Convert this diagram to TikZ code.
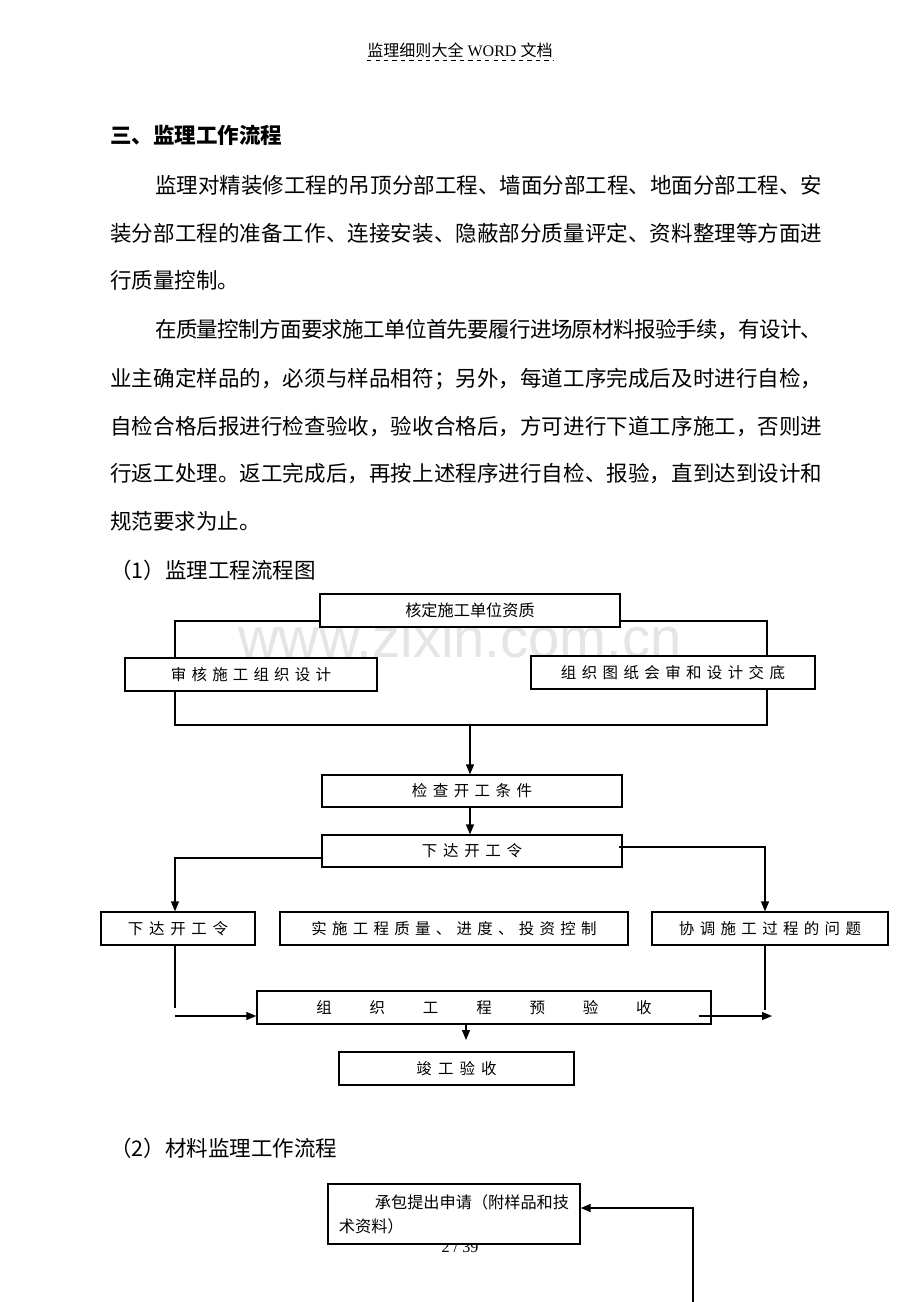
\documentclass[tikz,border=0pt]{standalone}
\usepackage{fontspec}
\setmainfont{Liberation Serif}
\newfontfamily\cjk{Noto Sans CJK SC}
\newfontfamily\wmfont{Liberation Sans}
\usetikzlibrary{arrows.meta}
\newcommand\bodyfont{\cjk\fontsize{15.3pt}{18pt}\selectfont}
\newcommand\boxfont{\cjk\fontsize{11pt}{13pt}\selectfont}
\makeatletter
% spread the characters of #2 evenly over the width #1
\newcommand\spreadto[2]{\makebox[#1][s]{\spread@chars#2\@nil}}
\def\spread@chars#1#2\@nil{#1\ifx\relax#2\relax\else\hskip 0pt plus 1fil minus 1fil\spread@chars#2\@nil\fi}
\makeatother
\tikzset{
  flowbox/.style={draw, fill=white, line width=0.9pt, minimum height=0.825cm, inner sep=0pt, font=\boxfont},
  link/.style={line width=0.9pt},
  arrowlink/.style={link, -{Triangle[length=0.25cm,width=0.2cm]}},
  bodyline/.style={anchor=base west, inner sep=0pt, font=\bodyfont},
}

\begin{document}
\begin{tikzpicture}[x=0.025cm,y=-0.025cm]
\fill[white] (0,0) rectangle (920,1302);
\useasboundingbox (0,0) rectangle (920,1302);
% page head
\node[anchor=base, inner sep=0pt, font=\fontsize{11.4pt}{13pt}\selectfont] (header) at (460,56) {{\cjk 监理细则大全} WORD {\cjk 文档}};
\draw[dashed, line width=0.4pt] ([yshift=-0.1cm]header.base west) -- ([yshift=-0.1cm]header.base east);
\node[bodyline, font=\bodyfont\bfseries] (title) at (110,143) {三、监理工作流程};
\node[bodyline] (l1) at (155,193) {\spreadto{16.675cm}{监理对精装修工程的吊顶分部工程、墙面分部工程、地面分部工程、安}};
\node[bodyline] (l2) at (110,241) {\spreadto{17.8cm}{装分部工程的准备工作、连接安装、隐蔽部分质量评定、资料整理等方面进}};
\node[bodyline] (l3) at (110,288) {行质量控制。};
\node[bodyline] (l4) at (155,337) {\spreadto{16.675cm}{在质量控制方面要求施工单位首先要履行进场原材料报验手续，有设计、}};
\node[bodyline] (l5) at (110,386) {\spreadto{17.8cm}{业主确定样品的，必须与样品相符；另外，每道工序完成后及时进行自检，}};
\node[bodyline] (l6) at (110,434) {\spreadto{17.8cm}{自检合格后报进行检查验收，验收合格后，方可进行下道工序施工，否则进}};
\node[bodyline] (l7) at (110,481) {\spreadto{17.8cm}{行返工处理。返工完成后，再按上述程序进行自检、报验，直到达到设计和}};
\node[bodyline] (l8) at (110,529) {规范要求为止。};
\node[bodyline] (cap1) at (110,578) {（1）监理工程流程图};
\node[bodyline] (cap2) at (110,1156) {（2）材料监理工作流程};
% watermark
\node[anchor=base, inner sep=0pt, text=black!10, font=\wmfont\fontsize{40pt}{40pt}\selectfont] (mark) at (460,657) {www.zixin.com.cn};
% flow chart (1)
\node[flowbox, minimum width=7.5cm, font=\cjk\fontsize{11.5pt}{13pt}\selectfont] (hezhi) at (470,610.5) {核定施工单位资质};
\node[flowbox, minimum width=6.3cm] (shenhe) at (251,674.5) {\spreadto{4cm}{审核施工组织设计}};
\node[flowbox, minimum width=7.1cm] (tuzhi) at (673,672.5) {\spreadto{5.6cm}{组织图纸会审和设计交底}};
\node[flowbox, minimum width=7.5cm, minimum height=0.8cm] (jiancha) at (472,791) {\spreadto{3cm}{检查开工条件}};
\node[flowbox, minimum width=7.5cm, minimum height=0.8cm] (kaigong) at (472,851) {\spreadto{2.5cm}{下达开工令}};
\node[flowbox, minimum width=3.85cm] (xiada) at (178,928.5) {\spreadto{2.5cm}{下达开工令}};
\node[flowbox, minimum width=8.7cm] (shishi) at (454,928.5) {\spreadto{7.125cm}{实施工程质量、进度、投资控制}};
\node[flowbox, minimum width=5.9cm] (xietiao) at (770,928.5) {\spreadto{4.55cm}{协调施工过程的问题}};
\node[flowbox, minimum width=11.35cm] (yanshou) at (484,1007.5) {\spreadto{8.375cm}{组织工程预验收}};
\node[flowbox, minimum width=5.875cm] (jungong) at (456.5,1068.5) {\spreadto{2cm}{竣工验收}};
\coordinate (merge) at (470,725);
\coordinate (leftend) at (175,1008);
\coordinate (leftin) at (175,1016);
\coordinate (rightend) at (765,1010);
\coordinate (rightout) at (772,1016);
\coordinate (downend) at (466,1040);
\draw[link] (hezhi.west |- 0,621) -| (shenhe.north -| 175,0);
\draw[link] (hezhi.east |- 0,621) -| (tuzhi.north -| 767,0);
\draw[link] (shenhe.south -| 175,0) |- (merge) -| (tuzhi.south -| 767,0);
\draw[arrowlink] (merge) -- (jiancha.north -| merge);
\draw[arrowlink] (jiancha.south -| merge) -- (kaigong.north -| merge);
\draw[arrowlink] (kaigong.west |- 0,858) -| (xiada.north -| 175,0);
\draw[arrowlink] ([xshift=-0.1cm]kaigong.east |- 0,847) -| (xietiao.north -| 765,0);
\draw[link] (xiada.south -| leftend) -- (leftend);
\draw[arrowlink] (leftin) -- (yanshou.west |- leftin);
\draw[link] (xietiao.south -| rightend) -- (rightend);
\draw[arrowlink] ([xshift=-0.325cm]yanshou.east |- rightout) -- (rightout);
\draw[arrowlink] (yanshou.south -| downend) -- (downend);
% flow chart (2)
\node[inner sep=0pt, font=\fontsize{11.5pt}{13pt}\selectfont] (pagenum) at (460,1247) {2 / 39};
\node[flowbox, minimum width=6.3cm, minimum height=1.5cm, align=left, font=\cjk\fontsize{11.5pt}{17pt}\selectfont] (shenqing) at (454,1214) {\hspace*{0.9cm}承包提出申请（附样品和技\\术资料）};
\coordinate (feedback) at (693,1302);
\draw[arrowlink] (feedback) |- (shenqing.east |- 0,1208);
\end{tikzpicture}
\end{document}
